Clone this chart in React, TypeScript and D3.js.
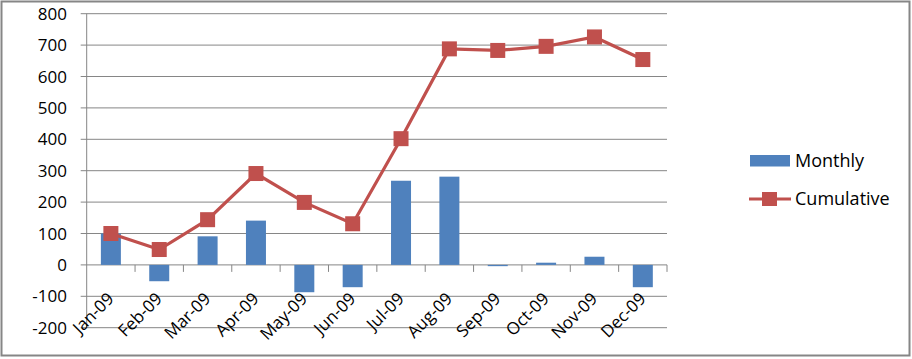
import React from "react";
import * as d3 from "d3";

const months = ["Jan-09", "Feb-09", "Mar-09", "Apr-09", "May-09", "Jun-09", "Jul-09", "Aug-09", "Sep-09", "Oct-09", "Nov-09", "Dec-09"];
const monthly = [100, -52, 91, 141, -87, -71, 268, 281, -4, 7, 26, -71];
const cumulative = [100, 49, 144, 291, 199, 131, 402, 688, 683, 696, 726, 654];
const yTicks = [-200, -100, 0, 100, 200, 300, 400, 500, 600, 700, 800];
const seriesNames = ["Monthly", "Cumulative"];

const W = 912;
const H = 359;
const font = "'Open Sans', 'Liberation Sans', Arial, sans-serif";
const blue = "#4F81BD";
const red = "#C0504D";
const grid = "#868686";

const App = () => {
    const plot = { left: 86.7, right: 667, top: 13.7, bottom: 327.7 };

    const x = d3.scaleBand<string>()
        .domain(months)
        .range([plot.left, plot.right]);

    const y = d3.scaleLinear()
        .domain([-200, 800])
        .range([plot.bottom, plot.top]);

    const barW = 20;
    const cx = (m: string) => (x(m) as number) + x.bandwidth() / 2;

    const line = d3.line<number>()
        .x((d, i) => cx(months[i]))
        .y((d) => y(d));

    const mk = 15;

    return (
        <svg width={W} height={H} style={{ position: "absolute", left: 0, top: 0 }} fontFamily={font}>
            <rect x={0} y={0} width={W} height={H} fill="#fff" />
            <rect x={1.5} y={1.5} width={908} height={354} fill="none" stroke={grid} strokeWidth={2} />

            {/* gridlines */}
            {yTicks.map((t) => (
                <line key={"g" + t} x1={plot.left - 6} x2={plot.right} y1={y(t)} y2={y(t)} stroke={grid} strokeWidth={1} />
            ))}
            <line x1={plot.left} x2={plot.left} y1={plot.top} y2={plot.bottom} stroke={grid} strokeWidth={1} />

            {/* y labels */}
            {yTicks.map((t) => (
                <text key={"l" + t} x={67} y={y(t) + 6} textAnchor="end" fontSize={17} fill="#000">{t}</text>
            ))}

            {/* bars */}
            {monthly.map((v, i) => (
                <rect key={"b" + i}
                    x={cx(months[i]) - barW / 2}
                    width={barW}
                    y={Math.min(y(v), y(0))}
                    height={Math.abs(y(v) - y(0))}
                    fill={blue} />
            ))}

            {/* category ticks on zero line */}
            {months.map((m, i) => (
                <line key={"t" + i} x1={(x(m) as number) + x.bandwidth()} x2={(x(m) as number) + x.bandwidth()}
                    y1={y(0)} y2={y(0) + 7} stroke={grid} strokeWidth={1} />
            ))}

            {/* x labels */}
            {months.map((m) => (
                <text key={"x" + m} transform={`translate(${cx(m) + 4},${y(0) + 35}) rotate(-45)`}
                    textAnchor="end" fontSize={17} fill="#000">{m}</text>
            ))}

            {/* cumulative line */}
            <path d={line(cumulative) || ""} fill="none" stroke={red} strokeWidth={3.2} />
            {cumulative.map((v, i) => (
                <rect key={"m" + i} x={cx(months[i]) - mk / 2} y={y(v) - mk / 2} width={mk} height={mk} fill={red} />
            ))}

            {/* legend */}
            <rect x={750} y={155} width={40} height={11.5} fill={blue} />
            <text x={795} y={167} fontSize={18} fill="#000">{seriesNames[0]}</text>
            <line x1={749} x2={791} y1={199} y2={199} stroke={red} strokeWidth={3.2} />
            <rect x={762} y={192} width={15} height={14} fill={red} />
            <text x={795} y={205} fontSize={18} fill="#000">{seriesNames[1]}</text>
        </svg>
    );
};

export default App;
